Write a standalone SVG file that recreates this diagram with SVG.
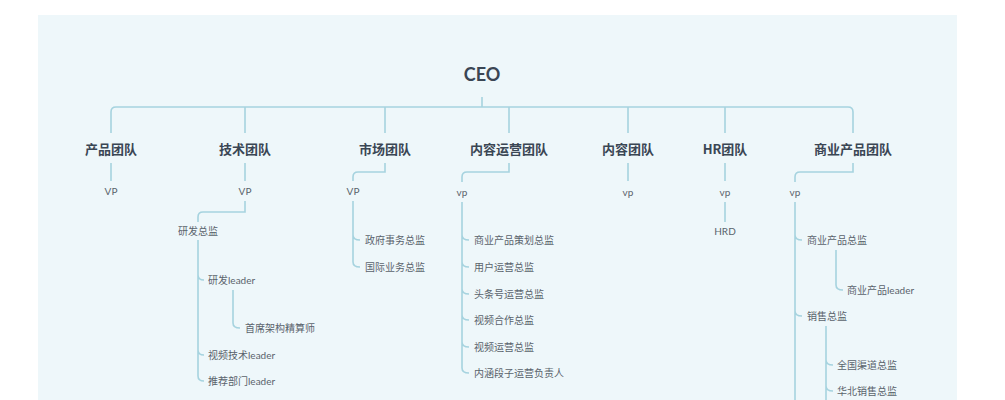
<svg xmlns="http://www.w3.org/2000/svg" width="1005" height="400" viewBox="0 0 1005 400">
<style>
.l{fill:none;stroke:#a6d3df;stroke-width:1.6}
.t{font-family:"Noto Sans CJK SC","Lato",sans-serif;font-size:13px;font-weight:bold;fill:#3a4654;text-anchor:middle;dominant-baseline:central}
.s{font-family:"Lato","Noto Sans CJK SC",sans-serif;font-size:10px;fill:#5a636c;dominant-baseline:central}
.m{text-anchor:middle}
</style>
<rect width="1005" height="400" fill="#fff"/>
<rect x="38" y="15" width="919" height="390" fill="#eef7fa"/>
<g id="connectors">
<path class="l" d="M482 97V107M111 133V112Q111 107 116 107H848Q853 107 853 112V133M245 107V133M385 107V133M509 107V133M628 107V133M725 107V133"/>
<path class="l" d="M111 163V181M245 163V181M628 163V181M725 163V181M725 202V222"/>
<path class="l" d="M245 201V212H203Q198 212 198 217V222M198 240V376Q198 381 204 381M198 275Q198 280 204 280M198 350Q198 355 204 355M233 290V323Q233 328 240 328"/>
<path class="l" d="M385 163V172H358Q353 172 353 177V181M353 201V262Q353 267 360 267M353 235Q353 240 360 240"/>
<path class="l" d="M509 163V172H467Q462 172 462 177V182M462 202V368Q462 373 469 373M462 235Q462 240 469 240M462 262Q462 267 469 267M462 289Q462 294 469 294M462 315Q462 320 469 320M462 342Q462 347 469 347"/>
<path class="l" d="M853 163V172H800Q795 172 795 177V182M795 202V400M795 235Q795 240 802 240M795 311Q795 316 802 316M836 250V285Q836 290 843 290M826 326V400M826 360Q826 365 833 365M826 386Q826 391 833 391"/>
</g>
<g id="ceo"><text x="482" y="74" class="t" style="font-size:18px;font-family:Lato,sans-serif">CEO</text></g>
<g id="team1"><text x="111" y="148" class="t">产品团队</text><text x="111" y="191" class="s m">VP</text></g>
<g id="team2"><text x="245" y="148" class="t">技术团队</text><text x="245" y="191" class="s m">VP</text>
<text x="198" y="231" class="s m">研发总监</text><text x="208" y="280" class="s">研发leader</text><text x="245" y="328" class="s">首席架构精算师</text><text x="208" y="355" class="s">视频技术leader</text><text x="208" y="381" class="s">推荐部门leader</text></g>
<g id="team3"><text x="385" y="148" class="t">市场团队</text><text x="353" y="191" class="s m">VP</text>
<text x="365" y="240" class="s">政府事务总监</text><text x="365" y="267" class="s">国际业务总监</text></g>
<g id="team4"><text x="509" y="148" class="t">内容运营团队</text><text x="462" y="192" class="s m">vp</text>
<text x="474" y="240" class="s">商业产品策划总监</text><text x="474" y="267" class="s">用户运营总监</text><text x="474" y="294" class="s">头条号运营总监</text><text x="474" y="320" class="s">视频合作总监</text><text x="474" y="347" class="s">视频运营总监</text><text x="474" y="373" class="s">内涵段子运营负责人</text></g>
<g id="team5"><text x="628" y="148" class="t">内容团队</text><text x="628" y="192" class="s m">vp</text></g>
<g id="team6"><text x="725" y="148" class="t">HR团队</text><text x="725" y="192" class="s m">vp</text><text x="725" y="231" class="s m">HRD</text></g>
<g id="team7"><text x="853" y="148" class="t">商业产品团队</text><text x="795" y="192" class="s m">vp</text>
<text x="807" y="240" class="s">商业产品总监</text><text x="847" y="290" class="s">商业产品leader</text><text x="807" y="316" class="s">销售总监</text><text x="837" y="365" class="s">全国渠道总监</text><text x="837" y="391" class="s">华北销售总监</text></g>
</svg>
